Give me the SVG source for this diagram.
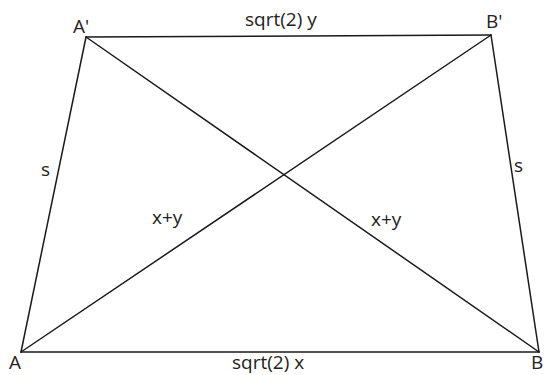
<svg xmlns="http://www.w3.org/2000/svg" width="545" height="375" viewBox="0 0 545 375">
<style>
.e{stroke:#1a1a1a;stroke-width:1.5;fill:none;stroke-linecap:round}
.t{font-family:"Open Sans","Liberation Sans",sans-serif;font-size:19px;fill:#222}
</style>
<rect width="545" height="375" fill="#fff"/>
<g id="connectors">
<line class="e" x1="86" y1="37" x2="491" y2="35"/>
<line class="e" x1="86" y1="37" x2="21" y2="352"/>
<line class="e" x1="491" y1="35" x2="539" y2="352"/>
<line class="e" x1="21" y1="352" x2="539" y2="352"/>
<line class="e" x1="86" y1="37" x2="539" y2="352"/>
<line class="e" x1="491" y1="35" x2="21" y2="352"/>
</g>
<g id="nodeAp"><text class="t" x="73" y="33">A'</text></g>
<g id="nodeBp"><text class="t" x="486" y="28">B'</text></g>
<g id="nodeA"><text class="t" x="9" y="369">A</text></g>
<g id="nodeB"><text class="t" x="531" y="369">B</text></g>
<g id="labels">
<text class="t" x="245" y="26">sqrt(2) y</text>
<text class="t" x="232" y="369">sqrt(2) x</text>
<text class="t" x="41" y="176">s</text>
<text class="t" x="514" y="172">s</text>
<text class="t" x="152" y="224">x+y</text>
<text class="t" x="371" y="226">x+y</text>
</g>
</svg>
